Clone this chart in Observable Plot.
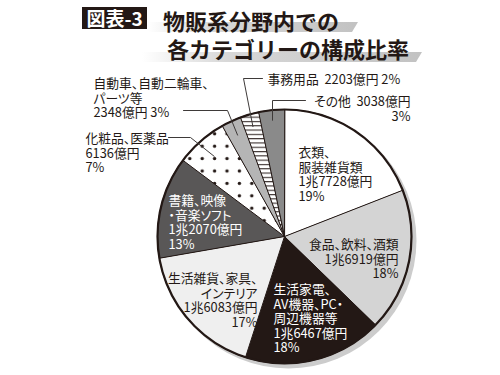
<!DOCTYPE html>
<html><head><meta charset="utf-8">
<script src="https://cdn.jsdelivr.net/npm/d3@7"></script>
<script src="https://cdn.jsdelivr.net/npm/@observablehq/plot@0.6"></script>
<style>
body{margin:0;background:#fff;}
#wrap{position:relative;width:500px;height:375px;overflow:hidden;font-family:"Noto Sans CJK JP","Noto Sans",sans-serif;}
#wrap svg{position:absolute;left:0;top:0;}
#wrap svg text{font-feature-settings:"palt";}
.tag{position:absolute;left:82px;top:7px;width:65px;height:22px;background:#231815;color:#fff;font-weight:700;font-size:19px;line-height:22px;text-align:center;z-index:2;}
.bar{position:absolute;height:10px;background:linear-gradient(to right, rgba(225,225,225,0), #d8d8d8 30%, #c2c2c2);clip-path:polygon(0 0,100% 0,calc(100% - 6px) 100%,0 100%);z-index:1;}
.t{position:absolute;font-weight:700;font-size:22px;line-height:1;color:#231815;white-space:nowrap;z-index:2;}
</style></head>
<body>
<div id="wrap">
  <div class="tag">図表-3</div>
  <div class="bar" style="left:148px;top:22px;width:210px;"></div>
  <div class="bar" style="left:142px;top:52px;width:280px;"></div>
  <div class="t" style="left:163px;top:9px;">物販系分野内での</div>
  <div class="t" style="left:167px;top:37px;">各カテゴリーの構成比率</div>
</div>
<script>
// ---- data ----
const categories = ["衣類、服装雑貨類","食品、飲料、酒類","生活家電、AV機器、PC・周辺機器等","生活雑貨、家具、インテリア","書籍、映像・音楽ソフト","化粧品、医薬品","自動車、自動二輪車、パーツ等","事務用品","その他"];
const nameLines = [["衣類、","服装雑貨類"],["食品、飲料、酒類"],["生活家電、","AV機器、PC・","周辺機器等"],["生活雑貨、家具、","インテリア"],["書籍、映像","・音楽ソフト"],["化粧品、医薬品"],["自動車、自動二輪車、","パーツ等"],["事務用品"],["その他"]];
const values = [17728,16919,16467,16083,12070,6136,2348,2203,3038]; // 億円
const valueLabels = ["1兆7728億円","1兆6919億円","1兆6467億円","1兆6083億円","1兆2070億円","6136億円","2348億円","2203億円","3038億円"];
const percents = [19,18,18,17,13,7,3,2,3];

// ---- styles / layout ----
const fills = ["#ffffff","#d4d4d4","#231815","#efefef","#595757","url(#dots)","#b5b5b5","url(#hatch)","#8a8a8a"];
const textColors = ["#231815","#231815","#ffffff","#231815","#ffffff","#231815","#231815","#231815","#231815"];
const CX = 284, CY = 236, R = 127;
const toX = px => (px - CX) / R, toY = py => (CY - py) / R;
// label layout: format, anchor, first-line centre in px
const labelLayout = [
  {fmt:"stack", anchor:"start", px:298, py:151},
  {fmt:"stack", anchor:"end",   px:398, py:243},
  {fmt:"stack", anchor:"start", px:273, py:288},
  {fmt:"stack", anchor:"end",   px:257, py:277},
  {fmt:"stack", anchor:"start", px:168, py:199},
  {fmt:"stack", anchor:"start", px:85,  py:137},
  {fmt:"valpct", anchor:"start", px:93, py:82},
  {fmt:"oneline", anchor:"start", px:267, py:78},
  {fmt:"nameval", anchor:"end", px:410, py:100}
];
const leaderLayout = [
  {i:5, pts:[[168,137],[190,137]], frac:0.84},
  {i:6, pts:[[183,110],[227,110]], frac:0.88},
  {i:7, pts:[[262,78],[243,78]], frac:0.90},
  {i:8, pts:[[305,100],[272,100]], frac:0.92}
];

// ---- derived ----
const total = d3.sum(values);
let acc = 0;
const slices = values.map((v, i) => {
  const a0 = acc / total * 2 * Math.PI; acc += v;
  const a1 = acc / total * 2 * Math.PI;
  return {i, a0, a1, mid: (a0 + a1) / 2};
});
const slicePts = slices.flatMap(s => {
  const n = Math.max(2, Math.ceil((s.a1 - s.a0) / (Math.PI / 180)));
  const pts = [{i: s.i, x: 0, y: 0}];
  for (let k = 0; k <= n; k++) {
    const a = s.a0 + (s.a1 - s.a0) * k / n;
    pts.push({i: s.i, x: Math.sin(a), y: Math.cos(a)});
  }
  return pts;
});
const labels = labelLayout.map((L, i) => {
  let text;
  if (L.fmt === "stack") text = [...nameLines[i], valueLabels[i], percents[i] + "%"].join("\n");
  else if (L.fmt === "valpct") text = [...nameLines[i], valueLabels[i] + " " + percents[i] + "%"].join("\n");
  else if (L.fmt === "oneline") text = nameLines[i].join("") + "  " + valueLabels[i] + " " + percents[i] + "%";
  else text = nameLines[i].join("") + "  " + valueLabels[i] + "\n" + percents[i] + "%";
  return {text, anchor: L.anchor, x: toX(L.px), y: toY(L.py - 4.5), color: textColors[i]};
});
const leaderPts = leaderLayout.flatMap(l => {
  const s = slices[l.i];
  const pts = l.pts.map(([px, py]) => ({id: l.i, x: toX(px), y: toY(py)}));
  pts.push({id: l.i, x: l.frac * Math.sin(s.mid), y: l.frac * Math.cos(s.mid)});
  return pts;
});

const defsMark = () => {
  const defs = d3.create("svg:defs");
  const d = defs.append("pattern").attr("id", "dots").attr("patternUnits", "userSpaceOnUse")
    .attr("width", 12.4).attr("height", 12.4).attr("x", 201.7 - 6.2).attr("y", 145.7 - 6.2);
  d.append("rect").attr("width", 12.4).attr("height", 12.4).attr("fill", "#fff");
  d.append("circle").attr("cx", 6.2).attr("cy", 6.2).attr("r", 1.7).attr("fill", "#231815");
  const h = defs.append("pattern").attr("id", "hatch").attr("patternUnits", "userSpaceOnUse")
    .attr("width", 10).attr("height", 4.3);
  h.append("rect").attr("width", 10).attr("height", 4.3).attr("fill", "#fff");
  h.append("line").attr("x1", 0).attr("x2", 10).attr("y1", 0.6).attr("y2", 0.6).attr("stroke", "#231815").attr("stroke-width", 1);
  return defs.node();
};

const font = '"Noto Sans CJK JP","Noto Sans",sans-serif';
const textOpts = {x: "x", y: "y", text: "text", fill: "color", lineAnchor: "top", fontSize: 12.8, lineHeight: 1.13, fontFamily: font};
const chart = Plot.plot({
  width: 500, height: 375, margin: 0,
  x: {domain: [toX(0), toX(500)], range: [0, 500], axis: null},
  y: {domain: [toY(375), toY(0)], range: [375, 0], axis: null},
  color: {type: "identity"},
  style: {background: "transparent", fontFamily: font},
  marks: [
    defsMark,
    Plot.dot([{x: 0, y: 0}], {x: "x", y: "y", r: R + 1, fill: "#cccccc", stroke: "none", dx: 4, dy: 4}),
    Plot.line(slicePts, {x: "x", y: "y", z: "i", fill: d => fills[d.i], stroke: "#231815", strokeWidth: 1, curve: "linear-closed"}),
    Plot.dot([{x: 0, y: 0}], {x: "x", y: "y", r: R, fill: "none", stroke: "#231815", strokeWidth: 2.2}),
    Plot.line(leaderPts, {x: "x", y: "y", z: "id", stroke: "#3e3a39", strokeWidth: 1}),
    Plot.text(labels.filter(d => d.anchor === "start"), {...textOpts, textAnchor: "start"}),
    Plot.text(labels.filter(d => d.anchor === "end"), {...textOpts, textAnchor: "end"})
  ]
});
document.getElementById("wrap").appendChild(chart);
</script>
</body></html>
